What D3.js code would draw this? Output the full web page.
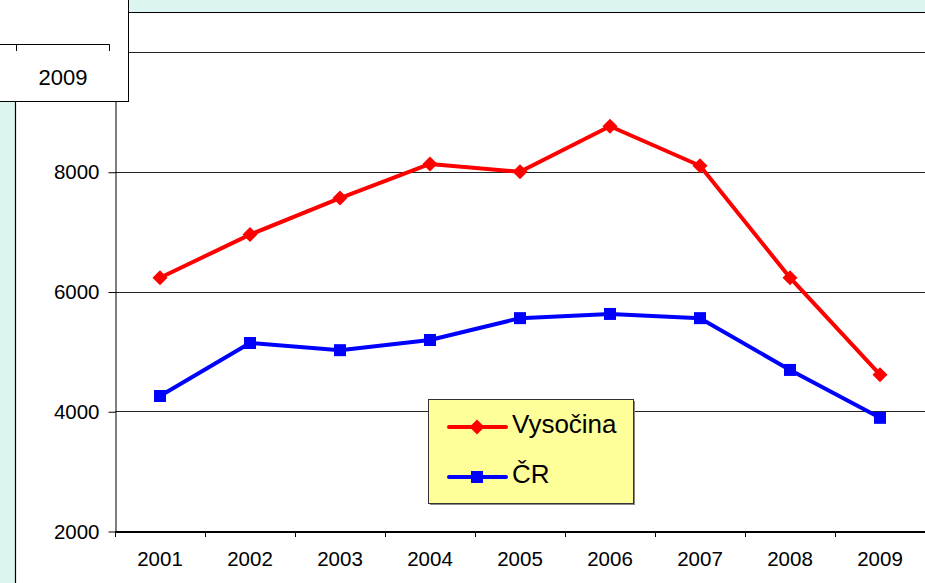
<!DOCTYPE html>
<html>
<head>
<meta charset="utf-8">
<script src="https://cdn.jsdelivr.net/npm/d3@7"></script>
<style>
  html, body { margin: 0; padding: 0; background: #dcf5f1; }
  svg { display: block; font-family: "Liberation Sans", Arial, sans-serif; }
</style>
</head>
<body>
<svg id="chart" width="925" height="583"></svg>
<script>
// ── Data ──────────────────────────────────────────────────────────────────────
const years     = ['2001', '2002', '2003', '2004', '2005', '2006', '2007', '2008', '2009'];
const vysocina  = [6230, 6950, 7560, 8130, 8000, 8760, 8100, 6230, 4610];
const cr        = [4255, 5140, 5020, 5190, 5555, 5625, 5555, 4690, 3890];
const yTicks    = [2000, 4000, 6000, 8000, 10000];
const seriesNames = ['Vysočina', 'ČR'];

// ── Layout ────────────────────────────────────────────────────────────────────
const W = 925, H = 583;
const PLOT_L = 115, PLOT_R = 925, PLOT_T = 52, PLOT_B = 531;
const FONT = '"Liberation Sans", Arial, sans-serif';

const svg = d3.select('#chart');

const x = d3.scaleBand().domain(years).range([PLOT_L, PLOT_R]);
const y = d3.scaleLinear().domain([2000, 10000]).range([PLOT_B, PLOT_T]);

// chart area (white) with top/left border
svg.append('rect')
  .attr('x', 15).attr('y', 12).attr('width', W - 15).attr('height', H - 12)
  .attr('fill', '#fff');
svg.append('path')
  .attr('d', `M15.5,${H}V12.5H${W}`)
  .attr('fill', 'none').attr('stroke', '#000').attr('stroke-width', 1.2);

// ── Gridlines ─────────────────────────────────────────────────────────────────
svg.append('g')
  .selectAll('line')
  .data(yTicks.filter(v => v > 2000))
  .join('line')
  .attr('x1', PLOT_L).attr('x2', PLOT_R)
  .attr('y1', d => Math.round(y(d)) + 0.5).attr('y2', d => Math.round(y(d)) + 0.5)
  .attr('stroke', '#222').attr('stroke-width', 1);

// ── Axes ──────────────────────────────────────────────────────────────────────
const yAxis = svg.append('g')
  .attr('transform', `translate(${PLOT_L + 0.5},0.5)`)
  .call(d3.axisLeft(y).tickValues(yTicks).tickFormat(d3.format('d'))
    .tickSize(7).tickSizeOuter(0).tickPadding(9));
yAxis.select('.domain').attr('stroke', '#000');
yAxis.selectAll('.tick text').attr('font-size', 20.5).attr('fill', '#000')
  .attr('font-family', FONT);

const xAxis = svg.append('g')
  .attr('transform', `translate(0,${PLOT_B + 0.5})`)
  .call(d3.axisBottom(x).tickSize(0).tickSizeOuter(0).tickPadding(20));
xAxis.select('.domain').attr('stroke', '#000').attr('stroke-width', 2);
xAxis.selectAll('.tick text').attr('font-size', 20.5).attr('fill', '#000')
  .attr('font-family', FONT);

// category-boundary tick marks
svg.append('g')
  .selectAll('line')
  .data(years.map(d => x(d)).concat([PLOT_R]))
  .join('line')
  .attr('x1', d => Math.round(d) + 0.5).attr('x2', d => Math.round(d) + 0.5)
  .attr('y1', PLOT_B).attr('y2', PLOT_B + 6)
  .attr('stroke', '#000');

// ── Series ────────────────────────────────────────────────────────────────────
const cx = d => x(d) + x.bandwidth() / 2;
const line = d3.line().x(d => cx(d.year)).y(d => y(d.value));

const series = [
  { name: seriesNames[0], color: '#ff0000', shape: 'diamond', values: vysocina },
  { name: seriesNames[1], color: '#0000ff', shape: 'square',  values: cr },
];

function markerPath(shape) {
  return shape === 'diamond' ? 'M0,-7.5L7.5,0L0,7.5L-7.5,0Z' : 'M-6,-6H6V6H-6Z';
}

series.forEach(s => {
  const pts = years.map((yr, i) => ({ year: yr, value: s.values[i] }));
  svg.append('path')
    .datum(pts)
    .attr('d', line)
    .attr('fill', 'none')
    .attr('stroke', s.color)
    .attr('stroke-width', 4)
    .attr('stroke-linejoin', 'round');
  svg.append('g')
    .selectAll('path')
    .data(pts)
    .join('path')
    .attr('transform', d => `translate(${cx(d.year)},${y(d.value)})`)
    .attr('d', markerPath(s.shape))
    .attr('fill', s.color);
});

// ── Legend ────────────────────────────────────────────────────────────────────
const legend = svg.append('g').attr('transform', 'translate(428,399)');
legend.append('rect')
  .attr('x', 2).attr('y', 2).attr('width', 205).attr('height', 104)
  .attr('fill', '#888');
legend.append('rect')
  .attr('x', 0.5).attr('y', 0.5).attr('width', 205).attr('height', 104)
  .attr('fill', '#ffff99').attr('stroke', '#333').attr('stroke-width', 1);

series.forEach((s, i) => {
  const ly = 28 + i * 50;
  const row = legend.append('g').attr('transform', `translate(0,${ly})`);
  row.append('line')
    .attr('x1', 21).attr('x2', 78).attr('y1', 0).attr('y2', 0)
    .attr('stroke', s.color).attr('stroke-width', 4).attr('stroke-linecap', 'round');
  row.append('path')
    .attr('transform', 'translate(49,0)')
    .attr('d', markerPath(s.shape))
    .attr('fill', s.color);
  row.append('text')
    .attr('x', 84).attr('y', 5.5)
    .attr('font-size', 26)
    .attr('fill', '#000')
    .text(s.name);
});

// ── Overlapping box (top-left) ────────────────────────────────────────────────
const box = svg.append('g');
box.append('rect')
  .attr('x', -1).attr('y', -1).attr('width', 129.5).attr('height', 102.5)
  .attr('fill', '#fff').attr('stroke', '#000').attr('stroke-width', 1);
box.append('path')
  .attr('d', 'M0,44.5H109.5V51M16.5,44.5V51')
  .attr('fill', 'none').attr('stroke', '#000');
box.append('text')
  .attr('x', 63).attr('y', 85)
  .attr('text-anchor', 'middle')
  .attr('font-size', 22)
  .attr('fill', '#000')
  .text(years[years.length - 1]);
</script>
</body>
</html>
